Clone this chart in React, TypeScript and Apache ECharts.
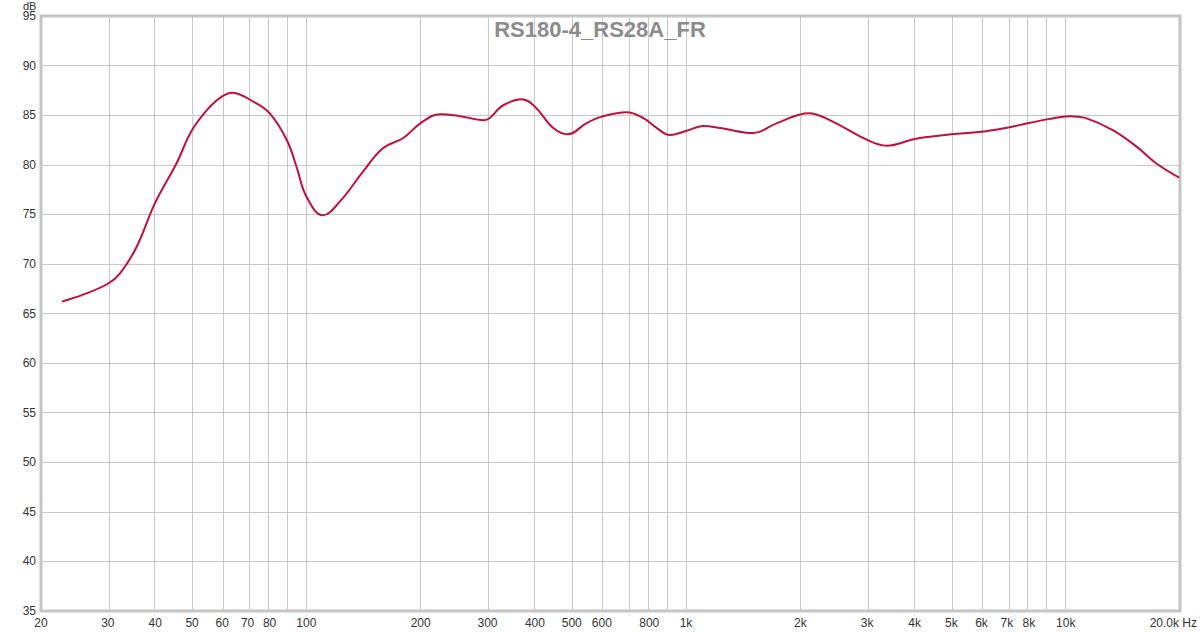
import React, { useEffect, useRef } from "react";
import * as echarts from "echarts";

const TITLE = "RS180-4_RS28A_FR";
const Y_UNIT = "dB";

const freqs: number[] = [
  22.7, 25.8, 30, 32.3, 35.7, 39.9, 45.5, 50, 55.7, 60, 63.6, 72.5, 80, 88.8, 94.2, 100, 110.5, 122.6, 141, 159, 180,
  200, 225, 254, 293, 330, 369, 400, 447, 488, 547, 600, 698, 772, 838, 906, 1000, 1110, 1232, 1502, 1736,
  2106, 2390, 3000, 3370, 4000, 4390, 5000, 6000, 7000, 8000, 9000, 10240, 11300, 13300, 15400, 17300, 19900,
];
const levels: number[] = [
  66.2, 66.9, 68.0, 69.05, 71.7, 76.1, 80.15, 83.5, 85.85, 86.9, 87.27, 86.36, 85.2, 82.5, 79.8, 76.8, 74.9, 76.3, 79.3, 81.66, 82.7,
  84.2, 85.1, 84.9, 84.5, 86.0, 86.6, 85.85, 83.7, 83.07, 84.2, 84.85, 85.3, 84.7, 83.7, 83.0, 83.4, 83.9, 83.7, 83.2, 84.2,
  85.2, 84.5, 82.5, 81.92, 82.6, 82.83, 83.07, 83.33, 83.74, 84.2, 84.6, 84.9, 84.7, 83.5, 81.8, 80.15, 78.7,
];

const labelFreqs: number[] = [20, 30, 40, 50, 60, 70, 80, 100, 200, 300, 400, 500, 600, 800, 1000, 2000, 3000, 4000, 5000, 6000, 7000, 8000, 10000, 20000];
const labelTexts: string[] = ["20", "30", "40", "50", "60", "70", "80", "100", "200", "300", "400", "500", "600", "800", "1k", "2k", "3k", "4k", "5k", "6k", "7k", "8k", "10k", "20.0k Hz"];
const gridFreqs: number[] = [
  30, 40, 50, 60, 70, 80, 90, 100, 200, 300, 400, 500, 600, 700, 800, 900, 1000,
  2000, 3000, 4000, 5000, 6000, 7000, 8000, 9000, 10000,
];

const F_MIN = 20;
const F_MAX = 20000;
const DB_MIN = 35;
const DB_MAX = 95;
const DB_STEP = 5;

const FONT = "Liberation Sans, Arial, sans-serif";

export default function App() {
  const ref = useRef<HTMLDivElement>(null);
  useEffect(() => {
    if (!ref.current) return;
    const chart = echarts.init(ref.current, null, { renderer: "svg" });
    const lg = (f: number) => Math.log10(f);
    const labelVals = labelFreqs.map(lg);
    const lastIdx = labelTexts.length - 1;
    chart.setOption({
      animation: false,
      backgroundColor: "#ffffff",
      title: {
        text: TITLE,
        left: "center",
        top: 13,
        textStyle: { fontFamily: FONT, fontSize: 22, fontWeight: "bold", color: "#8c8c8c" },
      },
      grid: {
        left: 41,
        right: 20,
        top: 16,
        bottom: 22,
        show: true,
        outerBoundsMode: "none",
        containLabel: false,
        borderColor: "#c4c4c4",
        borderWidth: 3,
        backgroundColor: "transparent",
      },
      graphic: [
        {
          type: "text",
          right: 3,
          top: 617,
          style: { text: labelTexts[lastIdx], fill: "#333", fontSize: 12, fontFamily: FONT },
        },
        {
          type: "text",
          left: 23,
          top: 0,
          style: { text: Y_UNIT, fill: "#333", fontSize: 11, lineHeight: 10, fontFamily: FONT },
        },
      ],
      xAxis: {
        type: "value",
        min: lg(F_MIN),
        max: lg(F_MAX),
        axisLine: { show: false },
        axisTick: { show: false },
        splitLine: { show: false },
        axisLabel: {
          customValues: labelVals.slice(0, lastIdx),
          margin: 6,
          color: "#333",
          fontSize: 12,
          fontFamily: FONT,
          formatter: (v: number) => {
            let best = 0;
            let bd = Infinity;
            labelVals.forEach((lv, i) => {
              const d = Math.abs(lv - v);
              if (d < bd) { bd = d; best = i; }
            });
            return best === lastIdx ? "" : labelTexts[best];
          },
        },
      },
      yAxis: {
        type: "value",
        min: DB_MIN,
        max: DB_MAX,
        interval: DB_STEP,
        axisLine: { show: false },
        axisTick: { show: false },
        splitLine: { show: true, lineStyle: { color: "#c8c8c8", width: 1 } },
        axisLabel: { margin: 5, color: "#333", fontSize: 12, fontFamily: FONT },
      },
      series: [
        {
          type: "line",
          data: [],
          z: 1,
          silent: true,
          markLine: {
            silent: true,
            symbol: ["none", "none"],
            label: { show: false },
            lineStyle: { color: "#c8c8c8", width: 1, type: "solid" },
            data: gridFreqs.map((f) => ({ xAxis: lg(f) })),
          },
        },
        {
          type: "line",
          z: 10,
          smooth: 0.4,
          showSymbol: false,
          symbol: "none",
          lineStyle: { color: "#c0103c", width: 2 },
          data: freqs.map((f, i) => [lg(f), levels[i]]),
        },
      ],
    });
    return () => chart.dispose();
  }, []);
  return <div ref={ref} style={{ position: "fixed", left: 0, top: 0, width: 1200, height: 633 }} />;
}
